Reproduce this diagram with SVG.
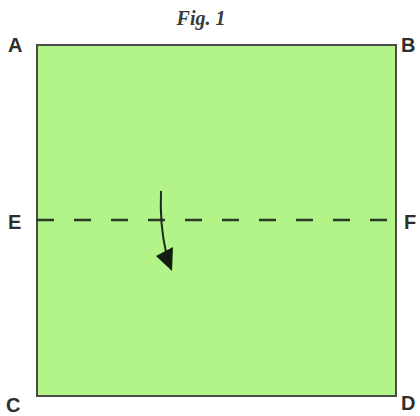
<svg xmlns="http://www.w3.org/2000/svg" width="420" height="416" viewBox="0 0 420 416">
<style>
.lbl{font-family:"Liberation Sans",Arial,sans-serif;font-weight:bold;font-size:20px;fill:#2e2e2e;}
.fig{font-family:"Liberation Serif","Times New Roman",serif;font-style:italic;font-weight:bold;font-size:20px;fill:#3a3a3a;}
</style>
<rect width="420" height="416" fill="#ffffff"/>
<text class="fig" x="201" y="25" text-anchor="middle">Fig. 1</text>
<g id="square">
<rect x="37" y="45" width="359" height="351" fill="#b2f487" stroke="#4a4a48" stroke-width="2"/>
</g>
<g id="connectors">
<line x1="37" y1="220" x2="396" y2="220" stroke="#2a3a28" stroke-width="2.5" stroke-dasharray="17 20"/>
<path d="M161,191 C160,215 162,235 166,252" fill="none" stroke="#1e2a1c" stroke-width="2"/>
<polygon points="156,256 173,247 172,271" fill="#141c12"/>
</g>
<g id="labels">
<text class="lbl" x="8" y="52">A</text>
<text class="lbl" x="401" y="52">B</text>
<text class="lbl" x="8" y="229">E</text>
<text class="lbl" x="404" y="229">F</text>
<text class="lbl" x="6" y="412">C</text>
<text class="lbl" x="401" y="410">D</text>
</g>
</svg>
